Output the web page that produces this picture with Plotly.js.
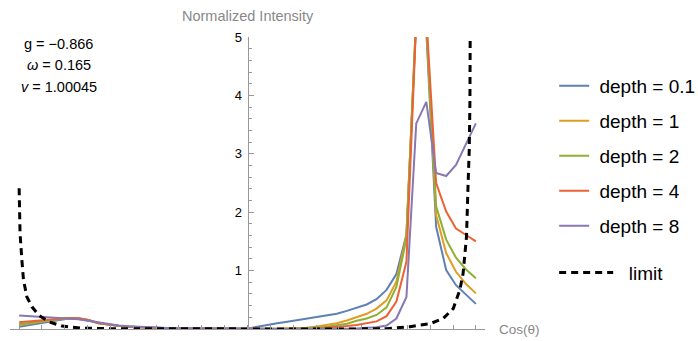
<!DOCTYPE html>
<html>
<head>
<meta charset="utf-8">
<script src="https://cdn.plot.ly/plotly-3.0.1.min.js"></script>
<style>html,body{margin:0;padding:0;background:#fff;}#chart{width:698px;height:341px;}</style>
</head>
<body>
<div id="chart"></div>
<script>
const cosTheta = [-1.000,-0.957,-0.913,-0.870,-0.826,-0.783,-0.739,-0.696,-0.652,-0.609,-0.565,-0.522,-0.478,-0.435,-0.391,-0.348,-0.304,-0.261,-0.217,-0.174,-0.130,-0.087,-0.043,0.000,0.043,0.087,0.130,0.174,0.217,0.261,0.304,0.348,0.391,0.435,0.478,0.522,0.565,0.609,0.652,0.696,0.739,0.783,0.826,0.870,0.913,0.957,1.000];

const depth01 = [0.04,0.07,0.10,0.13,0.16,0.18,0.17,0.14,0.10,0.075,0.055,0.04,0.03,0.022,0.016,0.012,0.01,0.008,0.006,0.005,0.004,0.003,0.002,0.005,0.04,0.075,0.10,0.125,0.15,0.175,0.20,0.225,0.26,0.31,0.37,0.42,0.51,0.67,0.94,1.62,5.3,5.1,1.75,1.01,0.75,0.58,0.43];
const depth1 = [0.07,0.09,0.11,0.14,0.165,0.185,0.18,0.15,0.10,0.075,0.055,0.04,0.03,0.022,0.016,0.012,0.01,0.008,0.006,0.005,0.004,0.003,0.002,0.001,0.001,0.003,0.005,0.008,0.012,0.022,0.045,0.07,0.10,0.145,0.20,0.26,0.35,0.49,0.81,1.60,5.35,5.2,1.95,1.30,0.98,0.77,0.61];
const depth2 = [0.08,0.10,0.12,0.145,0.17,0.19,0.185,0.155,0.10,0.075,0.055,0.04,0.03,0.022,0.016,0.012,0.01,0.008,0.006,0.005,0.004,0.003,0.002,0.001,0.001,0.002,0.003,0.005,0.008,0.013,0.025,0.04,0.06,0.09,0.14,0.18,0.24,0.37,0.72,1.55,5.4,5.25,2.10,1.53,1.22,1.02,0.87];
const depth4 = [0.115,0.13,0.145,0.16,0.175,0.19,0.185,0.155,0.10,0.075,0.055,0.04,0.03,0.022,0.016,0.012,0.01,0.008,0.006,0.005,0.004,0.003,0.002,0.001,0.001,0.001,0.002,0.003,0.004,0.006,0.01,0.02,0.03,0.05,0.07,0.095,0.13,0.22,0.47,1.15,5.3,5.35,2.50,2.01,1.72,1.61,1.50];
const depth8 = [0.23,0.22,0.21,0.20,0.19,0.18,0.165,0.14,0.11,0.08,0.06,0.045,0.035,0.025,0.02,0.015,0.012,0.01,0.008,0.006,0.005,0.004,0.003,0.002,0.001,0.001,0.001,0.001,0.001,0.002,0.002,0.003,0.004,0.005,0.01,0.02,0.03,0.06,0.18,0.55,3.52,3.89,2.67,2.62,2.81,3.17,3.52];

const limitX = [-1.000,-0.996,-0.988,-0.981,-0.966,-0.944,-0.915,-0.871,-0.812,-0.733,-0.600,-0.400,0.000,0.400,0.609,0.711,0.799,0.857,0.901,0.930,0.944,0.959,0.966,0.971,0.974,0.976,0.978];
const limitY = [2.41,1.64,1.18,0.84,0.55,0.38,0.24,0.125,0.05,0.015,0.005,0.002,0,0,0.005,0.04,0.09,0.18,0.35,0.67,0.95,1.58,2.49,3.07,3.9,5.0,8.0];

const seriesNames = ['depth = 0.1','depth = 1','depth = 2','depth = 4','depth = 8'];
const seriesValues = [depth01, depth1, depth2, depth4, depth8];
const seriesColors = ['#5E81B5','#E19C24','#8FB032','#EB6235','#8778B3'];

const yTickVals = [1,2,3,4,5];
const yTickText = ['1','2','3','4','5'];
const params = ['g = \u22120.866','<i>\u03c9</i> = 0.165','<i>v</i> = 1.00045'];
const paramY = [4.88,4.52,4.14];

const FONT = 'Liberation Sans, Arial, sans-serif';

const traces = seriesValues.map((vals, i) => ({
  x: cosTheta, y: vals, type: 'scatter', mode: 'lines',
  name: '\u00a0' + seriesNames[i], legendgroup: 'g' + i,
  line: {color: seriesColors[i], width: 2},
  legend: 'legend'
}));
traces.push({
  x: limitX, y: limitY, type: 'scatter', mode: 'lines', name: '\u00a0\u00a0limit',
  line: {color: '#000', width: 3, dash: '7px,5px'},
  legend: 'legend2'
});

const annotations = [
  {text: 'Normalized Intensity', xref: 'x', yref: 'paper', x: 0, y: 1.072, showarrow: false,
   xanchor: 'center', yanchor: 'middle', font: {family: FONT, size: 14.5, color: '#888'}},
  {text: 'Cos(\u03b8)', xref: 'paper', yref: 'paper', x: 1.0253, y: 0, showarrow: false,
   xanchor: 'left', yanchor: 'middle', font: {family: FONT, size: 13.5, color: '#888'}}
];
params.forEach((t, i) => annotations.push({
  text: t, xref: 'x', yref: 'y', x: -0.827, y: paramY[i], showarrow: false,
  xanchor: 'center', yanchor: 'middle', font: {family: FONT, size: 14.5, color: '#000'}
}));

const layout = {
  width: 698, height: 341,
  margin: {l: 10, r: 213, t: 37, b: 12, autoexpand: false},
  paper_bgcolor: '#fff', plot_bgcolor: '#fff',
  font: {family: FONT, size: 12, color: '#000'},
  xaxis: {
    range: [-1.04, 1.04], showgrid: false, zeroline: false,
    showline: true, linecolor: '#999', linewidth: 1,
    ticks: 'inside', ticklen: 4, tickcolor: '#999', tick0: 0, dtick: 0.1,
    showticklabels: false, fixedrange: true
  },
  yaxis: {
    range: [0, 5], showgrid: false, zeroline: false,
    anchor: 'free', position: 0.5,
    showline: true, linecolor: '#999', linewidth: 1,
    ticks: 'inside', ticklen: 5, tickcolor: '#999',
    tickvals: yTickVals, ticktext: yTickText,
    tickfont: {family: FONT, size: 13, color: '#000'},
    ticklabelstandoff: 3,
    minor: {ticks: 'inside', ticklen: 3, tickcolor: '#999', dtick: 0.2, tick0: 0},
    fixedrange: true
  },
  showlegend: true,
  legend: {
    x: 1.1456, y: 0.898, xanchor: 'left', yanchor: 'top',
    traceorder: 'grouped', tracegroupgap: 7.3,
    font: {family: FONT, size: 19, color: '#000'},
    bgcolor: 'rgba(0,0,0,0)', itemwidth: 30
  },
  legend2: {
    x: 1.1456, y: 0.258, xanchor: 'left', yanchor: 'top',
    font: {family: FONT, size: 19, color: '#000'},
    bgcolor: 'rgba(0,0,0,0)', itemwidth: 54
  },
  annotations: annotations
};

Plotly.newPlot('chart', traces, layout, {displayModeBar: false, staticPlot: true});
</script>
</body>
</html>
